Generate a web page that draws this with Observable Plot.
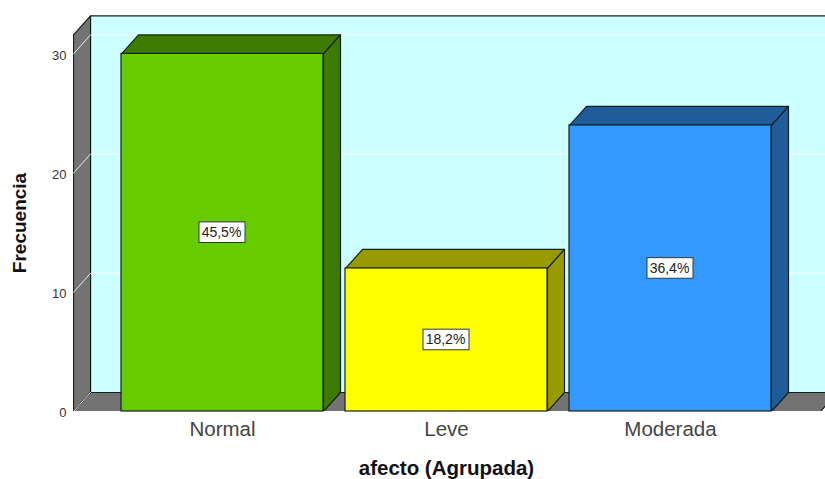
<!DOCTYPE html>
<html>
<head>
<meta charset="utf-8">
<script src="https://cdn.jsdelivr.net/npm/d3@7"></script>
<script src="https://cdn.jsdelivr.net/npm/@observablehq/plot@0.6"></script>
<style>
  html, body { margin: 0; padding: 0; background: #fff; overflow: hidden; }
  svg { display: block; }
</style>
</head>
<body>
<div id="chart"></div>
<script>
const categories = ["Normal", "Leve", "Moderada"];
const frequencies = [30, 12, 24];
const percentLabels = ["45,5%", "18,2%", "36,4%"];
const frontColors = ["#66cc00", "#ffff00", "#3399ff"];
const sideColors = ["#3d7a00", "#999900", "#1f5c99"];
const yTicks = [0, 10, 20, 30];

// Extruded look: every face is expressed in data units (x in category slots, y in counts).
const halfBar = 101 / 224;
const depthX = 17 / 224;
const depthY = 19 / 11.92;
const xMin = -149 / 224;
const xMax = 603 / 224;
const floorEnd = 598 / 224;
const wallTop = 31.6;
const boxHalfX = 23 / 224;
const boxHalfY = 10.3 / 11.92;
const edge = "#14201c";

const face = (points, fill, extra = {}) =>
  Plot.line([...points, points[0]], {
    x: "0", y: "1", fill, stroke: edge, strokeWidth: 1.2, clip: true, curve: "linear", ...extra
  });

const bars = categories.map((name, i) => ({
  name, i, value: frequencies[i], label: percentLabels[i],
  front: frontColors[i], side: sideColors[i]
}));

const marks = [
  // back wall
  face([[xMin + depthX, depthY], [xMax + 1, depthY], [xMax + 1, wallTop + depthY], [xMin + depthX, wallTop + depthY]], "#ccffff"),
  // gridlines across the back wall
  Plot.ruleY(yTicks.slice(1), {
    y: (d) => d + depthY, x1: xMin + depthX, x2: xMax, stroke: "#eefdfd", strokeWidth: 1.5
  }),
  // left wall
  face([[xMin, 0], [xMin + depthX, depthY], [xMin + depthX, wallTop + depthY], [xMin, wallTop]], "#737373"),
  // floor
  face([[xMin, 0], [floorEnd, 0], [floorEnd + depthX, depthY], [xMin + depthX, depthY]], "#737373"),
  // gridlines wrapping over the left wall
  ...yTicks.map((t) => Plot.line([[xMin, t], [xMin + depthX, t + depthY]], {
    x: "0", y: "1", stroke: "#e4eeee", strokeWidth: 1
  }))
];

for (const b of bars) {
  const l = b.i - halfBar, r = b.i + halfBar;
  marks.push(
    // top face
    face([[l, b.value], [r, b.value], [r + depthX, b.value + depthY], [l + depthX, b.value + depthY]], b.side),
    // side face
    face([[r, 0], [r + depthX, depthY], [r + depthX, b.value + depthY], [r, b.value]], b.side)
  );
}

marks.push(
  // front faces
  Plot.rect(bars, {
    x1: (d) => d.i - halfBar, x2: (d) => d.i + halfBar,
    y1: 0, y2: "value", fill: "front", stroke: edge, strokeWidth: 1.2
  }),
  // percentage tags centred on each bar
  Plot.rect(bars, {
    x1: (d) => d.i - boxHalfX, x2: (d) => d.i + boxHalfX,
    y1: (d) => d.value / 2 - boxHalfY, y2: (d) => d.value / 2 + boxHalfY,
    fill: "#fff", stroke: "#2a3a3a", strokeWidth: 1
  }),
  Plot.text(bars, {
    x: "i", y: (d) => d.value / 2, text: "label", dx: -1,
    fontSize: 14, fill: "#222", fontFamily: "Liberation Sans"
  }),
  Plot.axisY({
    ticks: yTicks, tickSize: 0, tickPadding: 7, label: null, dy: 1.5,
    fontSize: 13, fontFamily: "Liberation Sans", color: "#333"
  }),
  Plot.axisX({
    ticks: [0, 1, 2], tickFormat: (i) => categories[i], tickSize: 0, tickPadding: 10, label: null,
    fontSize: 20.5, fontFamily: "Liberation Sans", color: "#444"
  }),
  Plot.text(["afecto (Agrupada)"], {
    frameAnchor: "bottom", dy: 63, dx: -3, fontSize: 20.5, fontWeight: "bold",
    fontFamily: "Liberation Sans", fill: "#111"
  }),
  Plot.text(["Frecuencia"], {
    frameAnchor: "left", textAnchor: "middle", dx: -53.5, dy: 17, rotate: -90, fontSize: 19, fontWeight: "bold",
    fontFamily: "Liberation Sans", fill: "#111"
  })
);

const chart = Plot.plot({
  width: 825,
  height: 479,
  marginTop: 0,
  marginRight: 0,
  marginBottom: 68,
  marginLeft: 73,
  style: {background: "#fff", overflow: "hidden"},
  x: {type: "linear", domain: [xMin, xMax]},
  y: {type: "linear", domain: [0, 411 / 11.92]},
  color: {type: "identity"},
  marks
});
document.getElementById("chart").append(chart);
</script>
</body>
</html>
